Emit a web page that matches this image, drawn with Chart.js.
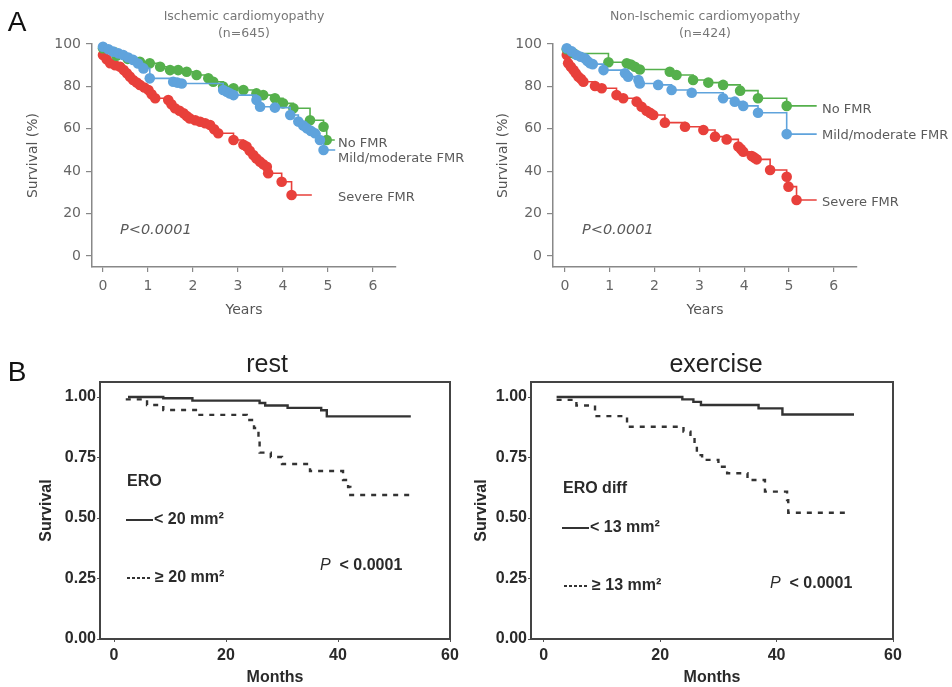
<!DOCTYPE html>
<html><head><meta charset="utf-8">
<script src="https://cdn.jsdelivr.net/npm/chart.js@4.4.1/dist/chart.umd.min.js"></script>
<style>
body{margin:0;width:952px;height:687px;background:#fff;position:relative;overflow:hidden;}
canvas{position:absolute;}
.c{position:absolute;white-space:nowrap;transform:translate(-50%,-50%);}
.l{position:absolute;white-space:nowrap;transform:translateY(-50%);}
.fa{font-family:"DejaVu Sans",sans-serif;color:#5a5a5a;}
.fb{font-family:"Liberation Sans",Arial,sans-serif;color:#2a2a2a;font-weight:bold;font-size:16px;}
.sl{display:inline-block;width:27px;height:2px;background:#333;vertical-align:middle;margin-right:1px;}
.dl{display:inline-block;width:25px;height:2px;background:repeating-linear-gradient(90deg,#333 0 3px,transparent 3px 5px);vertical-align:middle;margin-right:3px;}
</style></head><body>
<canvas id="a1" width="476" height="320" style="left:0;top:0"></canvas>
<canvas id="a2" width="476" height="320" style="left:476px;top:0"></canvas>
<canvas id="b1" width="466" height="357" style="left:0;top:330px"></canvas>
<canvas id="b2" width="486" height="357" style="left:466px;top:330px"></canvas>

<div class="c" style="left:17px;top:22px;font-family:'Liberation Sans',Arial;font-size:28px;color:#111">A</div>
<div class="c" style="left:17px;top:372px;font-family:'Liberation Sans',Arial;font-size:28px;color:#111">B</div>

<div class="c fa" style="left:244px;top:15px;font-size:12.5px;color:#777">Ischemic cardiomyopathy</div>
<div class="c fa" style="left:244px;top:32px;font-size:12.5px;color:#777">(n=645)</div>
<div class="c fa" style="left:705px;top:15px;font-size:12.5px;color:#777">Non-Ischemic cardiomyopathy</div>
<div class="c fa" style="left:705px;top:32px;font-size:12.5px;color:#777">(n=424)</div>

<div class="l fa" style="left:338px;top:142px;font-size:13px">No FMR</div>
<div class="l fa" style="left:338px;top:157px;font-size:13px">Mild/moderate FMR</div>
<div class="l fa" style="left:338px;top:196px;font-size:13px">Severe FMR</div>
<div class="l fa" style="left:822px;top:108px;font-size:13px">No FMR</div>
<div class="l fa" style="left:822px;top:134px;font-size:13px">Mild/moderate FMR</div>
<div class="l fa" style="left:822px;top:201px;font-size:13px">Severe FMR</div>
<div class="l fa" style="left:120px;top:229px;font-size:14.5px;font-style:italic">P&lt;0.0001</div>
<div class="l fa" style="left:582px;top:229px;font-size:14.5px;font-style:italic">P&lt;0.0001</div>

<div class="c" style="left:267px;top:363px;font-family:'Liberation Sans',Arial;font-size:25px;color:#222">rest</div>
<div class="c" style="left:716px;top:363px;font-family:'Liberation Sans',Arial;font-size:25px;color:#222">exercise</div>

<div class="l fb" style="left:127px;top:481px">ERO</div>
<div class="l fb" style="left:126px;top:519px"><span class="sl"></span>&lt; 20 mm²</div>
<div class="l fb" style="left:127px;top:577px"><span class="dl"></span>≥ 20 mm²</div>
<div class="l fb" style="left:320px;top:565px"><span style="font-style:italic;font-weight:normal">P</span>&nbsp; &lt; 0.0001</div>

<div class="l fb" style="left:563px;top:488px">ERO diff</div>
<div class="l fb" style="left:562px;top:527px"><span class="sl"></span>&lt; 13 mm²</div>
<div class="l fb" style="left:564px;top:585px"><span class="dl"></span>≥ 13 mm²</div>
<div class="l fb" style="left:770px;top:583px"><span style="font-style:italic;font-weight:normal">P</span>&nbsp; &lt; 0.0001</div>

<script>
// ---- tick labels ----
const yearTicks = [0, 1, 2, 3, 4, 5, 6];
const pctTicks = [0, 20, 40, 60, 80, 100];
const monthTicks = [0, 20, 40, 60];
const survTicks = [0, 0.25, 0.5, 0.75, 1.0];

// ---- Panel A: Ischemic cardiomyopathy (years, survival %) ----
const ischNoYears = [0, 0.3, 0.55, 0.82, 1.04, 1.27, 1.49, 1.67, 1.86, 2.08, 2.34, 2.45, 2.67, 2.9, 3.12, 3.41, 3.56, 3.82, 4.0, 4.23, 4.6, 4.9, 4.97, 5.15];
const ischNoSurv  = [98, 94.5, 93, 91.6, 90.9, 89.3, 87.7, 87.7, 86.9, 85.4, 83.8, 82.2, 79.9, 79.1, 78.3, 76.7, 75.9, 74.4, 72, 69.7, 64, 61, 54.7, 54.7];
const ischMildYears = [0, 0.12, 0.23, 0.34, 0.45, 0.56, 0.67, 0.78, 0.9, 1.04, 1.56, 1.65, 1.75, 2.67, 2.75, 2.82, 2.9, 3.41, 3.49, 3.82, 4.16, 4.34, 4.45, 4.53, 4.62, 4.71, 4.82, 4.9, 5.16];
const ischMildSurv  = [98.7, 97.5, 96.4, 95.6, 94.8, 93.6, 92.5, 90.8, 88.5, 83.8, 82.2, 81.8, 81.4, 78.3, 77.5, 76.7, 75.9, 73.6, 70.4, 70.0, 66.5, 63.4, 61.5, 60.2, 59, 57.9, 54.7, 50, 50];
const ischSevYears = [0, 0.08, 0.16, 0.27, 0.38, 0.46, 0.53, 0.6, 0.67, 0.75, 0.82, 0.92, 1.01, 1.08, 1.16, 1.45, 1.52, 1.6, 1.7, 1.79, 1.86, 1.93, 2.05, 2.16, 2.27, 2.38, 2.47, 2.56, 2.9, 3.12, 3.19, 3.26, 3.34, 3.41, 3.49, 3.56, 3.64, 3.67, 3.97, 4.19, 4.64];
const ischSevSurv  = [94.8, 92.8, 90.9, 90, 89.3, 87.7, 86.2, 84.6, 83, 81.8, 80.7, 79.5, 78.3, 76.3, 74.4, 73.6, 71.6, 69.7, 68.5, 67.3, 66, 64.9, 64, 63.3, 62.6, 61.8, 59.8, 57.9, 54.7, 52.5, 51.6, 49.6, 47.6, 46, 44.5, 43.3, 42.1, 39, 35, 28.8, 28.8];

// ---- Panel A: Non-Ischemic cardiomyopathy ----
const nonNoYears = [0.04, 0.2, 0.97, 1.38, 1.47, 1.56, 1.67, 2.34, 2.49, 2.86, 3.2, 3.53, 3.91, 4.31, 4.95, 5.62];
const nonNoSurv  = [97.5, 95.5, 91.4, 90.9, 90.3, 89.3, 88, 86.9, 85.4, 83, 81.8, 80.7, 78, 74.4, 70.8, 70.8];
const nonMildYears = [0.04, 0.15, 0.26, 0.35, 0.45, 0.5, 0.56, 0.62, 0.86, 1.34, 1.41, 1.64, 1.67, 2.08, 2.38, 2.83, 3.53, 3.79, 3.98, 4.31, 4.95, 5.62];
const nonMildSurv  = [98, 96.5, 94.8, 94, 93.2, 92, 90.9, 90.5, 87.7, 86.2, 84.6, 83, 81.4, 80.7, 78.3, 77, 74.4, 72.8, 70.8, 67.6, 57.5, 57.5];
const nonSevYears = [0.04, 0.07, 0.13, 0.19, 0.24, 0.3, 0.36, 0.41, 0.67, 0.82, 1.15, 1.3, 1.6, 1.71, 1.82, 1.9, 1.97, 2.23, 2.68, 3.09, 3.35, 3.61, 3.87, 3.93, 3.98, 4.17, 4.23, 4.28, 4.58, 4.95, 4.99, 5.17, 5.62];
const nonSevSurv  = [94.8, 90.9, 89.3, 87.7, 86.2, 84.6, 83.5, 82.2, 80.2, 79.1, 75.9, 74.4, 72.8, 70.4, 68.5, 67.5, 66.5, 62.9, 61, 59.4, 56.3, 55, 51.6, 50.4, 49.2, 47.2, 46.4, 45.6, 40.6, 37.4, 32.7, 26.4, 26.4];

// ---- Panel B: rest (months, survival) ----
const restLowMonths = [2.5, 8.8, 14, 26, 27, 31, 37, 38, 53];
const restLowSurv   = [1.0, 0.995, 0.985, 0.975, 0.965, 0.955, 0.945, 0.92, 0.92];
const restHighMonths = [2.1, 5.9, 8.8, 15, 23.7, 25, 25.8, 26, 28, 30, 35, 40.9, 41.8, 42.2, 53];
const restHighSurv   = [0.99, 0.967, 0.946, 0.926, 0.905, 0.872, 0.83, 0.77, 0.752, 0.723, 0.694, 0.657, 0.628, 0.595, 0.595];
// ---- Panel B: exercise ----
const exLowMonths = [2.2, 23.8, 25.7, 27, 36.9, 41, 53.3];
const exLowSurv   = [1.0, 0.99, 0.98, 0.967, 0.953, 0.928, 0.928];
const exHighMonths = [2.2, 5.6, 8.8, 14.3, 24, 25.2, 25.9, 26.3, 27.2, 30, 31.5, 35, 38, 41.8, 42, 52.4];
const exHighSurv   = [0.988, 0.965, 0.921, 0.877, 0.857, 0.833, 0.80, 0.76, 0.74, 0.712, 0.685, 0.657, 0.609, 0.574, 0.522, 0.522];

const RED = '#e8403b', GREEN = '#55b04c', BLUE = '#5fa3dc';
const zip = (xs, ys) => xs.map((x, i) => ({x, y: ys[i]}));
const setTicks = arr => s => { s.ticks = arr.map(v => ({value: v})); };

function kmA(xs, ys, color) {
  return {data: zip(xs, ys), stepped: true, borderColor: color, backgroundColor: color,
    borderWidth: 1.6, pointRadius: c => c.dataIndex === xs.length - 1 ? 0 : 5.3,
    pointBorderWidth: 0, pointHoverRadius: 5, clip: 12};
}
function kmB(xs, ys, dashed) {
  return {data: zip(xs, ys), stepped: true, borderColor: '#333', borderWidth: 2.4,
    borderDash: dashed ? [5, 6] : [], pointRadius: 0, clip: 4};
}

const fontA = {family: 'DejaVu Sans', size: 14};
function panelA(id, sets, xmin, xmax, yw, padR, titlePad) {
  return new Chart(document.getElementById(id), {
    type: 'line', data: {datasets: sets},
    options: {
      responsive: false, animation: false, events: [],
      layout: {padding: {top: 44, left: 0, right: padR, bottom: 0}},
      plugins: {legend: {display: false}, tooltip: {enabled: false}},
      scales: {
        x: {type: 'linear', min: xmin, max: xmax, afterBuildTicks: setTicks(yearTicks),
          grid: {display: true, drawOnChartArea: false, drawTicks: true, tickLength: 5, color: '#888', lineWidth: 1.2},
          border: {display: true, color: '#888', width: 1.5},
          ticks: {color: '#666', font: fontA, padding: 6, autoSkip: false, maxRotation: 0},
          title: {display: true, text: 'Years', color: '#555', font: fontA, padding: {top: 0, bottom: 1}},
          afterFit: s => { s.height = 320 - 267; }},
        y: {type: 'linear', min: -5.19, max: 100, afterBuildTicks: setTicks(pctTicks),
          grid: {display: true, drawOnChartArea: false, drawTicks: true, tickLength: 6, color: '#888', lineWidth: 1.2},
          border: {display: true, color: '#888', width: 1.5},
          ticks: {color: '#666', font: fontA, padding: 5},
          title: {display: true, text: 'Survival (%)', color: '#555', font: fontA, padding: {top: titlePad, bottom: 0}},
          afterFit: s => { s.width = yw; }}
      }
    }
  });
}

panelA('a1', [kmA(ischMildYears, ischMildSurv, BLUE), kmA(ischNoYears, ischNoSurv, GREEN), kmA(ischSevYears, ischSevSurv, RED)],
  -0.244, 6.51, 92, 476 - 396, 25);
panelA('a2', [kmA(nonMildYears, nonMildSurv, BLUE), kmA(nonNoYears, nonNoSurv, GREEN), kmA(nonSevYears, nonSevSurv, RED)],
  -0.268, 6.52, 553 - 476, 952 - 857, 19);

const fontB = {family: 'Liberation Sans', size: 16, weight: 'bold'};
function panelB(id, sets, xmin, yw, padR, titlePad) {
  const frame = {display: true, ticks: {display: false}, grid: {display: false}, border: {display: true, color: '#444', width: 2}};
  return new Chart(document.getElementById(id), {
    type: 'line', data: {datasets: sets},
    options: {
      responsive: false, animation: false, events: [],
      layout: {padding: {top: 52, left: 0, right: padR, bottom: 0}},
      plugins: {legend: {display: false}, tooltip: {enabled: false}},
      scales: {
        x: {type: 'linear', min: xmin, max: 60, afterBuildTicks: setTicks(monthTicks),
          grid: {display: true, drawOnChartArea: false, drawTicks: true, tickLength: 3, color: '#555', lineWidth: 1},
          border: {display: true, color: '#444', width: 2},
          ticks: {color: '#2a2a2a', font: fontB, padding: 4, autoSkip: false, maxRotation: 0},
          title: {display: true, text: 'Months', color: '#2a2a2a', font: fontB, padding: {top: 0, bottom: 0}},
          afterFit: s => { s.height = 687 - 639; }},
        y: {type: 'linear', min: 0, max: 1.062, afterBuildTicks: setTicks(survTicks),
          grid: {display: true, drawOnChartArea: false, drawTicks: true, tickLength: 3, color: '#555', lineWidth: 1},
          border: {display: true, color: '#444', width: 2},
          ticks: {color: '#2a2a2a', font: fontB, padding: 1, callback: v => v.toFixed(2)},
          title: {display: true, text: 'Survival', color: '#2a2a2a', font: fontB, padding: {top: titlePad, bottom: 0}},
          afterFit: s => { s.width = yw; }},
        xTop: Object.assign({}, frame, {type: 'linear', position: 'top', min: 0, max: 1, afterFit: s => { s.height = 0; }}),
        yRight: Object.assign({}, frame, {type: 'linear', position: 'right', min: 0, max: 1, afterFit: s => { s.width = 0; }})
      }
    }
  });
}

panelB('b1', [kmB(restLowMonths, restLowSurv, false), kmB(restHighMonths, restHighSurv, true)], -2.5, 100, 466 - 450, 37);
panelB('b2', [kmB(exLowMonths, exLowSurv, false), kmB(exHighMonths, exHighSurv, true)], -2.2, 531 - 466, 952 - 893, 6);
</script>
</body></html>
